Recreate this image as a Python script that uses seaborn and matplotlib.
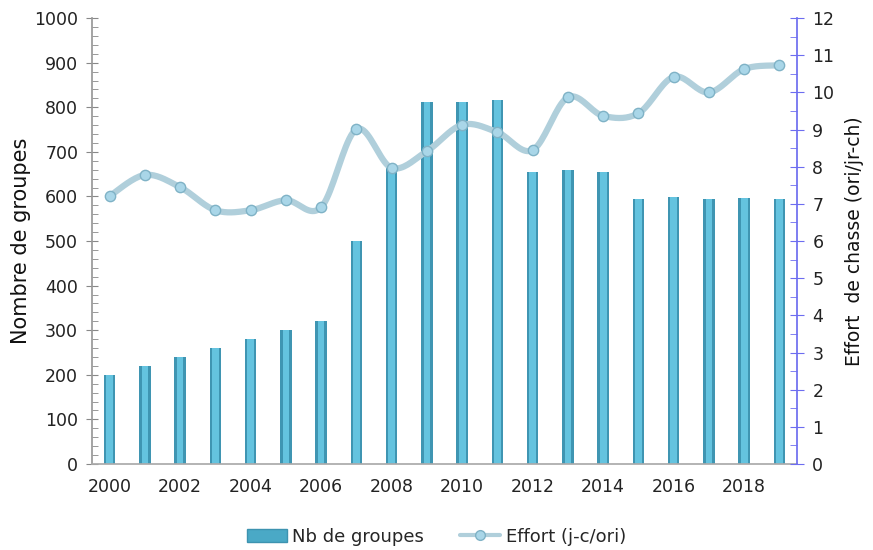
import numpy as np
import pandas as pd
import matplotlib
matplotlib.use("Agg")
import matplotlib.pyplot as plt
import seaborn as sns
from matplotlib.lines import Line2D
from matplotlib.patches import Patch
from matplotlib.ticker import MultipleLocator

years = list(range(2000, 2020))
groupes = [200, 220, 240, 260, 280, 300, 320, 500, 665, 812, 812, 816,
           655, 660, 655, 595, 598, 595, 597, 595]
effort = [7.21, 7.78, 7.45, 6.83, 6.83, 7.1, 6.91, 9.01, 7.97, 8.42, 9.13,
          8.93, 8.45, 9.87, 9.37, 9.44, 10.42, 10.0, 10.63, 10.73]
xtick_labels = [str(y) if (y - 2000) % 2 == 0 else "" for y in years]

sns.set_theme(style="white")
plt.rcParams["font.family"] = ["DejaVu Sans"]

df = pd.DataFrame({"annee": [str(y) for y in years], "groupes": groupes, "effort": effort})

fig = plt.figure(figsize=(8.73, 5.5), dpi=100)
ax = fig.add_axes([0.1054, 0.1564, 0.8076, 0.8106])

# bars (two layers to suggest the cylinder shading)
sns.barplot(data=df, x="annee", y="groupes", color="#3f95b2", width=0.33,
            saturation=1, ax=ax, edgecolor="none")
sns.barplot(data=df, x="annee", y="groupes", color="#64c3df", width=0.19,
            saturation=1, ax=ax, edgecolor="none")

ax.set_xlim(-0.5, 19.5)
ax.set_ylim(0, 1000)
ax.yaxis.set_major_locator(MultipleLocator(100))
ax.yaxis.set_minor_locator(MultipleLocator(20))
ax.set_xticks(range(len(years)))
ax.set_xticklabels(xtick_labels, fontsize=12.5, color="#222222")
ax.tick_params(axis="x", length=0, pad=10)
ax.tick_params(axis="y", which="major", direction="inout", length=8, width=0.8,
               color="#888888", labelsize=12.5, labelcolor="#222222", pad=6, left=True)
ax.tick_params(axis="y", which="minor", direction="in", length=4, width=0.6,
               color="#888888", left=True)
ax.set_xlabel("")
ax.set_ylabel("Nombre de groupes", fontsize=15, color="#111111", labelpad=2)
for s in ["top", "right"]:
    ax.spines[s].set_visible(False)
ax.spines["left"].set_color("#999999")
ax.spines["bottom"].set_color("#aaaaaa")

# secondary axis
ax2 = ax.twinx()
ax2.set_ylim(0, 12)
ax2.yaxis.set_major_locator(MultipleLocator(1))
ax2.yaxis.set_minor_locator(MultipleLocator(0.5))

# smooth curve through the points (Catmull-Rom, for display only)
xs = np.arange(len(effort), dtype=float)
ys = np.array(effort, dtype=float)
px = np.concatenate([[xs[0]], xs, [xs[-1]]])
py = np.concatenate([[ys[0]], ys, [ys[-1]]])
cx, cy = [], []
t = np.linspace(0, 1, 20, endpoint=False)
for i in range(1, len(px) - 2):
    p0, p1, p2, p3 = py[i - 1], py[i], py[i + 1], py[i + 2]
    q0, q1, q2, q3 = px[i - 1], px[i], px[i + 1], px[i + 2]
    f = lambda a0, a1, a2, a3: 0.5 * ((2 * a1) + (-a0 + a2) * t +
                                     (2 * a0 - 5 * a1 + 4 * a2 - a3) * t ** 2 +
                                     (-a0 + 3 * a1 - 3 * a2 + a3) * t ** 3)
    cx.extend(f(q0, q1, q2, q3))
    cy.extend(f(p0, p1, p2, p3))
cx.append(xs[-1])
cy.append(ys[-1])
smooth = pd.DataFrame({"x": cx, "y": cy})
sns.lineplot(data=smooth, x="x", y="y", ax=ax2, color="#b0cfdb", lw=4.5,
             sort=False, estimator=None)
sns.scatterplot(x=xs, y=ys, ax=ax2, s=55, color="#a9d6e8", edgecolor="#7fb2c6",
                linewidth=1, zorder=5)

ax2.set_xlim(-0.5, 19.5)
ax2.tick_params(axis="y", which="major", direction="inout", length=10, width=0.8,
                color="#6d6df0", labelsize=12.5, labelcolor="#222222", pad=6, right=True)
ax2.tick_params(axis="y", which="minor", direction="in", length=5, width=0.6,
                color="#6d6df0", right=True)
ax2.set_ylabel("Effort  de chasse (ori/jr-ch)", fontsize=13.5, color="#111111", labelpad=8)
for s in ["top", "left", "bottom"]:
    ax2.spines[s].set_visible(False)
ax2.spines["right"].set_color("#6d6df0")

handles = [Patch(facecolor="#4aa9c6", edgecolor="#3d93b0"),
           Line2D([0], [0], color="#b0cfdb", lw=3, marker="o", markersize=7,
                  markerfacecolor="#a9d6e8", markeredgecolor="#7fb2c6")]
fig.legend(handles, ["Nb de groupes", "Effort (j-c/ori)"], loc="center",
           bbox_to_anchor=(0.5, 0.024), ncol=2, frameon=False, fontsize=13,
           handlelength=2.2, columnspacing=2.0, handletextpad=0.3)

fig.savefig("out.png", dpi=100)
